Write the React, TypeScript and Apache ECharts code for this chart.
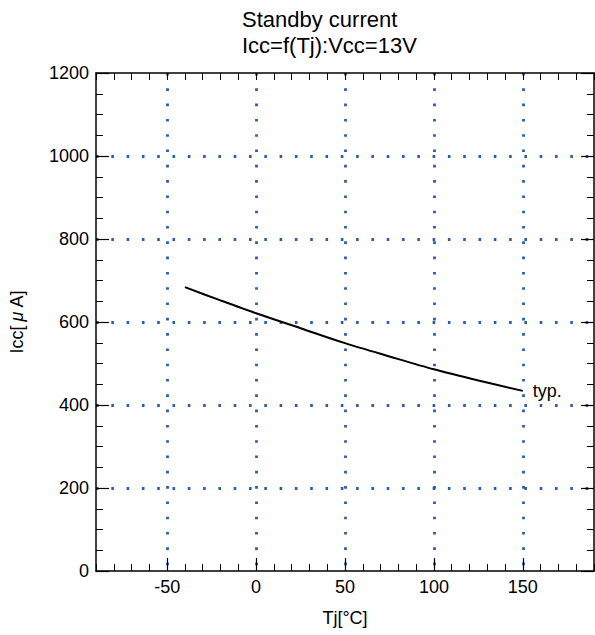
import React, { useEffect, useRef } from "react";
import * as echarts from "echarts";

const tempC = [-40, -20, 0, 25, 50, 75, 100, 125, 150];
const iccUA = [684, 652, 621, 585, 549, 517, 486, 459, 434];
const xRange = [-90, 190];
const yRange = [0, 1200];
const titleLines = ["Standby current", "Icc=f(Tj):Vcc=13V"];
const curveLabel = "typ.";

const FONT = "'Liberation Sans', Arial, sans-serif";
const BLACK = "#000";
const GRID_BLUE = "#2a5cb3";

export default function App() {
  const ref = useRef<HTMLDivElement>(null);
  useEffect(() => {
    if (!ref.current) return;
    const chart = echarts.init(ref.current, null, { renderer: "svg" });
    const axisLine = { show: true, onZero: false, lineStyle: { color: BLACK, width: 1.5 } };
    const dotted = {
      show: true,
      showMinLine: false,
      showMaxLine: false,
      lineStyle: { color: GRID_BLUE, width: 2.8, type: [2.6, 12.7] as any },
    };
    const option: any = {
      animation: false,
      textStyle: { fontFamily: FONT },
      title: {
        text: titleLines.join("\n"),
        left: 242,
        top: 6,
        padding: 0,
        textStyle: { fontSize: 22, fontWeight: "normal", color: BLACK, lineHeight: 26, fontFamily: FONT },
      },
      grid: { left: 96, right: 1, top: 73, bottom: 64, containLabel: false },
      xAxis: [
        {
          type: "value", position: "bottom", min: xRange[0], max: xRange[1], interval: 10,
          axisLine, axisTick: { show: true, inside: true, length: 7, lineStyle: { color: BLACK, width: 1 } },
          axisLabel: { show: false }, splitLine: { show: false },
        },
        {
          type: "value", position: "bottom", min: xRange[0], max: xRange[1], splitNumber: 5,
          axisLine: { show: false },
          axisTick: { show: true, inside: true, length: 13, lineStyle: { color: BLACK, width: 1.2 } },
          axisLabel: {
            show: true, showMinLabel: false, showMaxLabel: false, margin: 7,
            fontSize: 18, color: BLACK, fontFamily: FONT,
            formatter: (v: number) => (v % 50 === 0 ? String(v) : ""),
          },
          splitLine: dotted,
          name: "Tj[°C]", nameLocation: "middle", nameGap: 38,
          nameTextStyle: { fontSize: 18, color: BLACK, fontFamily: FONT },
        },
        {
          type: "value", position: "top", min: xRange[0], max: xRange[1], interval: 10,
          axisLine, axisTick: { show: true, inside: true, length: 7, lineStyle: { color: BLACK, width: 1 } },
          axisLabel: { show: false }, splitLine: { show: false },
        },
      ],
      yAxis: [
        {
          type: "value", position: "left", min: yRange[0], max: yRange[1], interval: 200,
          axisLine,
          axisTick: { show: true, inside: true, length: 13, lineStyle: { color: BLACK, width: 1.2 } },
          minorTick: { show: true, splitNumber: 4, length: 7, lineStyle: { color: BLACK, width: 1 } },
          axisLabel: {
            show: true, margin: 7, fontSize: 18, color: BLACK, fontFamily: FONT,
            formatter: (v: number) => String(v),
          },
          splitLine: dotted,
          name: "Icc[{mu|μ}A]", nameLocation: "middle", nameGap: 70,
          nameTextStyle: {
            fontSize: 18, color: BLACK, fontFamily: FONT,
            rich: { mu: { fontSize: 18, fontStyle: "italic", color: BLACK, fontFamily: FONT, padding: [0, 4] } },
          },
        },
        {
          type: "value", position: "right", min: yRange[0], max: yRange[1], interval: 200,
          axisLine,
          axisTick: { show: true, inside: true, length: 13, lineStyle: { color: BLACK, width: 1.2 } },
          minorTick: { show: true, splitNumber: 4, length: 7, lineStyle: { color: BLACK, width: 1 } },
          axisLabel: { show: false }, splitLine: { show: false },
        },
      ],
      series: [
        {
          type: "line",
          xAxisIndex: 1,
          yAxisIndex: 0,
          data: tempC.map((t, i) => [t, iccUA[i]]),
          showSymbol: false,
          smooth: 0.3,
          lineStyle: { color: BLACK, width: 2 },
          endLabel: {
            show: true, formatter: curveLabel, distance: 10,
            fontSize: 18, color: BLACK, fontFamily: FONT,
          },
          z: 5,
        },
      ],
    };
    chart.setOption(option);
    return () => chart.dispose();
  }, []);
  return (
    <div
      ref={ref}
      style={{ position: "fixed", left: 0, top: 0, width: 595, height: 635, background: "#fff" }}
    />
  );
}
